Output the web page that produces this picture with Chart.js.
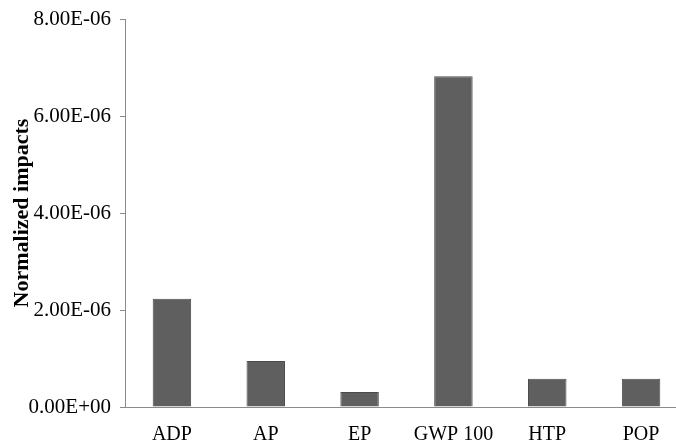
<!DOCTYPE html>
<html>
<head>
<meta charset="utf-8">
<script src="https://cdn.jsdelivr.net/npm/chart.js@4"></script>
<style>
  html, body { margin: 0; padding: 0; background: #fff; overflow: hidden; }
  #wrap { width: 676px; height: 445px; overflow: hidden; }
</style>
</head>
<body>
<div id="wrap"><canvas id="chart" width="692" height="445"></canvas></div>
<script>
// Categorias e valores normalizados
const categories = ['ADP', 'AP', 'EP', 'GWP 100', 'HTP', 'POP'];
const impacts = [2.23e-6, 0.95e-6, 0.31e-6, 6.82e-6, 0.58e-6, 0.58e-6];
const yTicks = [0, 2e-6, 4e-6, 6e-6, 8e-6];

const axisColor = '#8a8a8a';
const serif = "'Liberation Serif', 'Times New Roman', serif";

// formata como 8.00E-06 (expoente com 2 dígitos)
function fmtExp(v) {
    const s = Number(v).toExponential(2).toUpperCase();
    const m = s.match(/^(-?[\d.]+)E([+-])(\d+)$/);
    if (!m) return s;
    return m[1] + 'E' + m[2] + m[3].padStart(2, '0');
}

new Chart(document.getElementById('chart').getContext('2d'), {
    type: 'bar',
    data: {
        labels: categories,
        datasets: [{
            data: impacts,
            backgroundColor: '#5f5f5f',
            borderColor: '#4b4b4b',
            borderWidth: 1,
            barPercentage: 0.41,
            categoryPercentage: 1
        }]
    },
    options: {
        responsive: false,
        animation: false,
        layout: { padding: { top: 19, right: 4, bottom: 0, left: 0 } },
        plugins: { legend: { display: false }, tooltip: { enabled: false } },
        scales: {
            x: {
                grid: { display: false, drawTicks: false },
                border: { display: true, color: axisColor, width: 1 },
                ticks: { color: '#000', font: { family: serif, size: 20 }, padding: 16, maxRotation: 0 },
                afterFit: (s) => { s.height = 38; s.paddingLeft = 0; s.paddingRight = 0; }
            },
            y: {
                min: 0,
                max: 8e-6,
                afterBuildTicks: (s) => { s.ticks = yTicks.map(v => ({ value: v })); },
                grid: { drawOnChartArea: false, drawTicks: true, tickLength: 5, color: axisColor },
                border: { display: true, color: axisColor, width: 1 },
                ticks: { color: '#000', font: { family: serif, size: 21 }, padding: 9, callback: (v) => fmtExp(v) },
                title: {
                    display: true,
                    text: 'Normalized impacts',
                    color: '#000',
                    font: { family: serif, size: 22, weight: 'bold' },
                    padding: { top: 9, bottom: 0 }
                },
                afterFit: (s) => { s.width = 125; s.paddingTop = 0; s.paddingBottom = 0; }
            }
        }
    }
});
</script>
</body>
</html>
